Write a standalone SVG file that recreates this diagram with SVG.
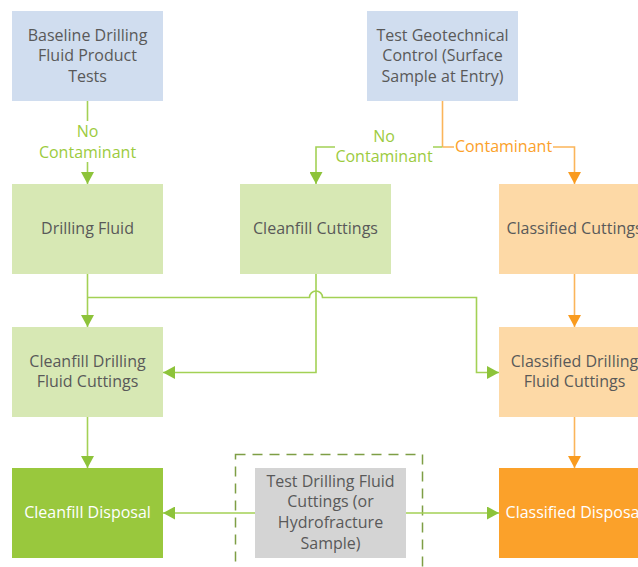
<svg xmlns="http://www.w3.org/2000/svg" width="638" height="567" viewBox="0 0 638 567">
<defs>
<marker id="ag" markerWidth="12" markerHeight="13" refX="12" refY="6.5" orient="auto" markerUnits="userSpaceOnUse"><path d="M0,0 L12,6.5 L0,13 z" fill="#8DC33A"/></marker>
<marker id="ao" markerWidth="12" markerHeight="13" refX="12" refY="6.5" orient="auto" markerUnits="userSpaceOnUse"><path d="M0,0 L12,6.5 L0,13 z" fill="#F99B1F"/></marker>
</defs>
<style>
text{font-family:"Open Sans","Noto Sans","Liberation Sans",sans-serif;font-size:16px;text-anchor:middle;fill:#595959}
.blue{fill:#D0DDEF}
.lg{fill:#D7E8B4}
.lo{fill:#FDD9A6}
.dg{fill:#99C83D}
.do{fill:#FBA12A}
.gr{fill:#D4D4D4}
.g{stroke:#A3D155;stroke-width:1.6;fill:none}
.o{stroke:#FBB55A;stroke-width:1.6;fill:none}
.lblg{fill:#9CCB3E}
.lblo{fill:#FBA12A}
</style>
<rect width="638" height="567" fill="#FFFFFF"/>
<g id="dashed-group"><rect x="235.5" y="454.5" width="187" height="130" fill="none" stroke="#7E9E45" stroke-width="1.5" stroke-dasharray="10,7"/></g>
<g id="connectors">
<path class="g" d="M87.5,101 V121" />
<path class="g" d="M87.5,162 V184" marker-end="url(#ag)"/>
<text class="lblg" x="87.5" y="137">No</text>
<text class="lblg" x="87.5" y="158">Contaminant</text>
<path class="o" d="M442.5,101 V147"/>
<path class="g" d="M442.5,147 H316 V184" marker-end="url(#ag)"/>
<path class="o" d="M442.5,147 H574.5 V184" marker-end="url(#ao)"/>
<rect x="335" y="127" width="98" height="38" fill="#FFFFFF"/>
<text class="lblg" x="384" y="142">No</text>
<text class="lblg" x="384" y="162">Contaminant</text>
<rect x="454" y="138" width="99" height="18" fill="#FFFFFF"/>
<text class="lblo" x="503.5" y="152">Contaminant</text>
<path class="g" d="M87.5,274 V327" marker-end="url(#ag)"/>
<path class="g" d="M87.5,297.5 H309.5 A6.5,6.5 0 0 1 322.5,297.5 H476.5 V372.5 H499" marker-end="url(#ag)"/>
<path class="g" d="M316,274 V372.5 H163" marker-end="url(#ag)"/>
<path class="o" d="M574.5,274 V327" marker-end="url(#ao)"/>
<path class="g" d="M87.5,417 V468" marker-end="url(#ag)"/>
<path class="o" d="M574.5,417 V468" marker-end="url(#ao)"/>
<path class="g" d="M255,513 H163" marker-end="url(#ag)"/>
<path class="g" d="M406,513 H499" marker-end="url(#ag)"/>
</g>
<g id="baseline"><rect class="blue" x="12" y="11" width="151" height="90"/><text x="87.5" y="41">Baseline Drilling</text><text x="87.5" y="61">Fluid Product</text><text x="87.5" y="82">Tests</text></g>
<g id="geotech"><rect class="blue" x="367" y="11" width="151" height="90"/><text x="442.5" y="41">Test Geotechnical</text><text x="442.5" y="61">Control (Surface</text><text x="442.5" y="82">Sample at Entry)</text></g>
<g id="drilling-fluid"><rect class="lg" x="12" y="184" width="151" height="90"/><text x="87.5" y="234">Drilling Fluid</text></g>
<g id="cleanfill-cuttings"><rect class="lg" x="240" y="184" width="151" height="90"/><text x="315.5" y="234">Cleanfill Cuttings</text></g>
<g id="classified-cuttings"><rect class="lo" x="499" y="184" width="151" height="90"/><text x="574.5" y="234">Classified Cuttings</text></g>
<g id="cleanfill-dfc"><rect class="lg" x="12" y="327" width="151" height="90"/><text x="87.5" y="367">Cleanfill Drilling</text><text x="87.5" y="387">Fluid Cuttings</text></g>
<g id="classified-dfc"><rect class="lo" x="499" y="327" width="151" height="90"/><text x="574.5" y="367">Classified Drilling</text><text x="574.5" y="387">Fluid Cuttings</text></g>
<g id="cleanfill-disposal"><rect class="dg" x="12" y="468" width="151" height="90"/><text x="87.5" y="518" style="fill:#FFFFFF">Cleanfill Disposal</text></g>
<g id="test-dfc"><rect class="gr" x="255" y="468" width="151" height="90"/><text x="330.5" y="487">Test Drilling Fluid</text><text x="330.5" y="507">Cuttings (or</text><text x="330.5" y="528">Hydrofracture</text><text x="330.5" y="549">Sample)</text></g>
<g id="classified-disposal"><rect class="do" x="499" y="468" width="151" height="90"/><text x="574.5" y="518" style="fill:#FFFFFF">Classified Disposal</text></g>
</svg>
